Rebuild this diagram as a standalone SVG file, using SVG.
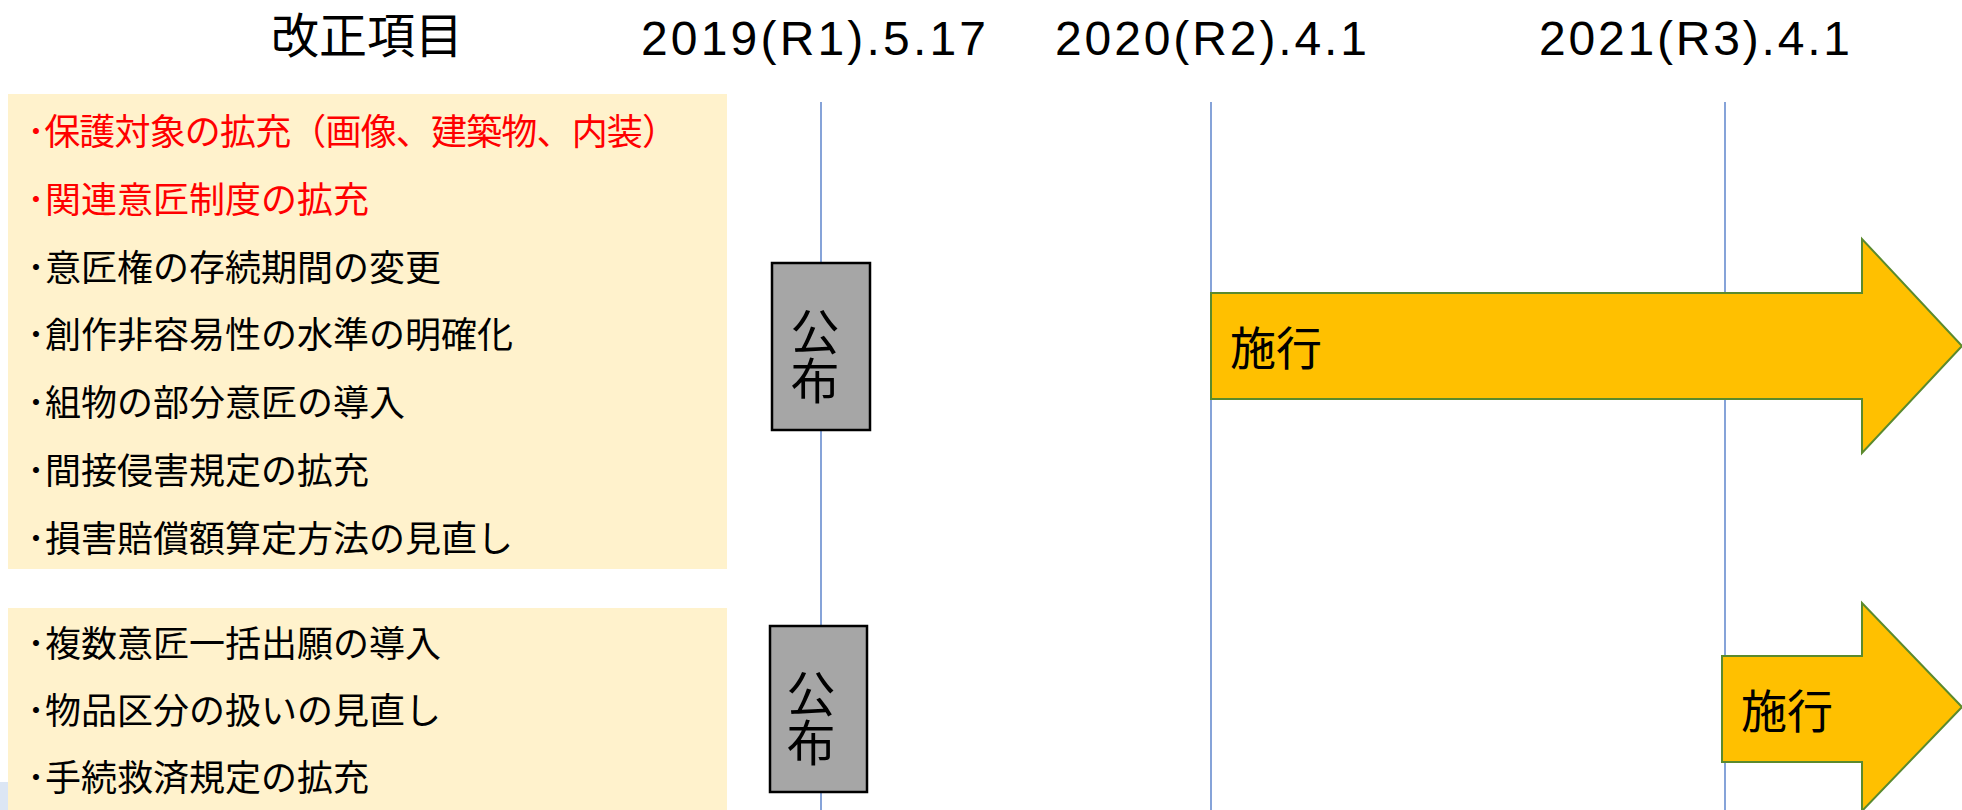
<svg xmlns="http://www.w3.org/2000/svg" width="1962" height="810" viewBox="0 0 1962 810">
  <style>
    .hdr { font-family: "Liberation Sans", "Noto Sans CJK JP", sans-serif; font-size: 48px; fill: #000; }
    .hdrj { font-family: "Noto Sans CJK JP", sans-serif; font-size: 48px; fill: #000; }
    .item { font-family: "Noto Sans CJK JP", sans-serif; font-size: 36px; fill: #000; }
    .red { fill: #FF0000; }
    .listbox { fill: #FFF2CC; stroke: none; }
    .tline { stroke: #4472C4; stroke-width: 1.3; fill: none; }
    .pub { fill: #A6A6A6; stroke: #000; stroke-width: 2.5; }
    .pubtxt { font-family: "Noto Sans CJK JP", sans-serif; font-size: 49px; fill: #000; text-anchor: middle; writing-mode: vertical-rl; }
    .arrow { fill: #FFC000; stroke: #5B8A2E; stroke-width: 2; stroke-linejoin: miter; }
    .arrtxt { font-family: "Noto Sans CJK JP", sans-serif; font-size: 46px; fill: #000; }
  </style>
  <rect x="0" y="0" width="1962" height="810" fill="#FFFFFF"/>

  <g id="headers">
    <text class="hdrj" x="271" y="53">改正項目</text>
    <text class="hdr" x="641" y="55" textLength="345" lengthAdjust="spacing">2019(R1).5.17</text>
    <text class="hdr" x="1055" y="55" textLength="312" lengthAdjust="spacing">2020(R2).4.1</text>
    <text class="hdr" x="1539" y="55" textLength="311" lengthAdjust="spacing">2021(R3).4.1</text>
  </g>

  <rect x="0" y="782" width="10" height="28" fill="#DCE6F4"/>

  <g id="connectors">
    <line class="tline" x1="821" y1="102" x2="821" y2="810"/>
    <line class="tline" x1="1211" y1="102" x2="1211" y2="810"/>
    <line class="tline" x1="1725" y1="102" x2="1725" y2="810"/>
  </g>

  <g id="list-2019">
    <rect class="listbox" x="8" y="94" width="719" height="475"/>
    <text class="item red" x="27" y="145" textLength="651" lengthAdjust="spacing">･保護対象の拡充（画像、建築物、内装）</text>
    <text class="item red" x="27" y="213">･関連意匠制度の拡充</text>
    <text class="item" x="27" y="281">･意匠権の存続期間の変更</text>
    <text class="item" x="27" y="348">･創作非容易性の水準の明確化</text>
    <text class="item" x="27" y="416">･組物の部分意匠の導入</text>
    <text class="item" x="27" y="484">･間接侵害規定の拡充</text>
    <text class="item" x="27" y="552">･損害賠償額算定方法の見直し</text>
  </g>

  <g id="list-2021">
    <rect class="listbox" x="8" y="608" width="719" height="202"/>
    <text class="item" x="27" y="657">･複数意匠一括出願の導入</text>
    <text class="item" x="27" y="724">･物品区分の扱いの見直し</text>
    <text class="item" x="27" y="791">･手続救済規定の拡充</text>
  </g>

  <g id="publish-1">
    <rect class="pub" x="772" y="263" width="98" height="167"/>
    <text class="pubtxt" x="815" y="356">公布</text>
  </g>

  <g id="publish-2">
    <rect class="pub" x="770" y="626" width="97" height="166"/>
    <text class="pubtxt" x="811" y="718">公布</text>
  </g>

  <g id="enforce-2020">
    <polygon class="arrow" points="1211,293 1862,293 1862,239 1962,346 1862,453 1862,399 1211,399"/>
    <text class="arrtxt" x="1230" y="365">施行</text>
  </g>

  <g id="enforce-2021">
    <polygon class="arrow" points="1722,656 1862,656 1862,603 1962,707 1862,811 1862,762 1722,762"/>
    <text class="arrtxt" x="1741" y="728">施行</text>
  </g>
</svg>
